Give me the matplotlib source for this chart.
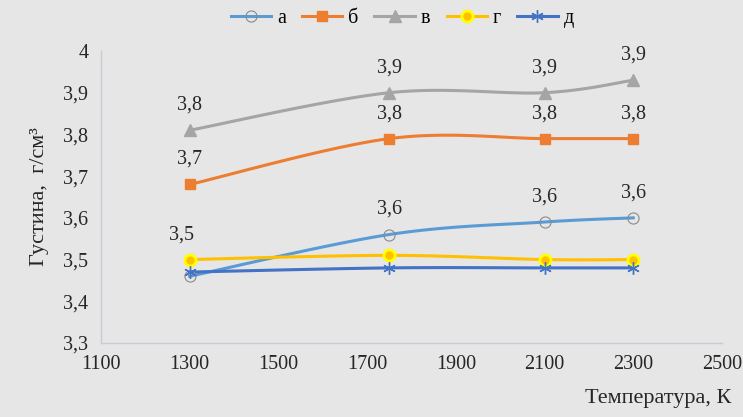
import numpy as np
import matplotlib.pyplot as plt

plt.rcParams['font.family'] = ['Liberation Serif', 'DejaVu Serif']

temps = [1300, 1750, 2100, 2300]
dens_a = [3.46, 3.56, 3.59, 3.60]
dens_b = [3.68, 3.79, 3.79, 3.79]
dens_v = [3.81, 3.90, 3.90, 3.93]
dens_g = [3.50, 3.51, 3.50, 3.50]
dens_d = [3.47, 3.48, 3.48, 3.48]

# which points get a value label
labels_a = [False, True, True, True]
labels_b = [True, True, True, True]
labels_v = [True, True, True, True]
labels_g = [True, False, False, False]
labels_d = [False, False, False, False]

xlim = (1100, 2500)
ylim = (3.3, 4.0)
bg = '#e6e6e6'


def smooth(x, y, n=40):
    # Catmull-Rom style bezier through the points, done in scaled coords
    sx = (np.asarray(x, float) - xlim[0]) / (xlim[1] - xlim[0]) * 621
    sy = (np.asarray(y, float) - ylim[0]) / (ylim[1] - ylim[0]) * 292
    p = np.column_stack([sx, sy])
    pts = np.vstack([p[0], p, p[-1]])
    out = []
    t = np.linspace(0, 1, n)[:, None]
    for i in range(1, len(pts) - 2):
        p0, p1, p2, p3 = pts[i - 1], pts[i], pts[i + 1], pts[i + 2]
        c1 = p1 + (p2 - p0) / 6
        c2 = p2 - (p3 - p1) / 6
        seg = ((1 - t) ** 3) * p1 + 3 * ((1 - t) ** 2) * t * c1 + 3 * (1 - t) * t ** 2 * c2 + t ** 3 * p2
        out.append(seg)
    c = np.vstack(out)
    xs = c[:, 0] / 621 * (xlim[1] - xlim[0]) + xlim[0]
    ys = c[:, 1] / 292 * (ylim[1] - ylim[0]) + ylim[0]
    return xs, ys


fig = plt.figure(figsize=(7.43, 4.17), dpi=100, facecolor=bg)
ax = fig.add_axes([0.1359, 0.1775, 0.8358, 0.7002], facecolor=bg)

series = [
    ('а', dens_a, labels_a, '#5b9bd5', dict(marker='o', markersize=8, markerfacecolor='none',
                                              markeredgecolor='#8a8a8a', markeredgewidth=0.8)),
    ('б', dens_b, labels_b, '#ed7d31', dict(marker='s', markersize=7, markerfacecolor='#ed7d31',
                                              markeredgecolor='#ed7d31')),
    ('в', dens_v, labels_v, '#a5a5a5', dict(marker='^', markersize=8, markerfacecolor='#a5a5a5',
                                              markeredgecolor='#a5a5a5')),
    ('г', dens_g, labels_g, '#ffc000', dict(marker='o', markersize=8, markerfacecolor='#ffc000',
                                              markeredgecolor='#ffff00', markeredgewidth=2)),
    ('д', dens_d, labels_d, '#4472c4', dict(marker=(6, 2, 0), markersize=9, markerfacecolor='#4472c4',
                                              markeredgecolor='#4472c4', markeredgewidth=1)),
]

for name, vals, lab, color, mk in series:
    xs, ys = smooth(temps, vals)
    ax.plot(xs, ys, color=color, lw=2.2, zorder=2)
    ax.plot(temps, vals, linestyle='none', zorder=3, **mk)
    # proxy for the legend: line with marker
    ax.plot([], [], color=color, lw=2.2, label=name, **mk)
    for t, v, show in zip(temps, vals, lab):
        if show:
            dx = -6 if name == 'г' else 0
            ax.annotate(f'{v:.1f}'.replace('.', ','), (t, v), xytext=(dx, 18),
                        textcoords='offset points', ha='center', va='center',
                        fontsize=14.5, color='#262626')

ax.set_xlim(*xlim)
ax.set_ylim(*ylim)
ax.set_xticks(np.arange(1100, 2501, 200))
ax.set_yticks(np.arange(3.3, 4.01, 0.1))
ax.set_yticklabels([f'{v:.1f}'.replace('.', ',').replace(',0', '') for v in np.arange(3.3, 4.01, 0.1)])
ax.tick_params(length=0, labelsize=14.5, colors='#262626', pad=9)
for s in ['top', 'right']:
    ax.spines[s].set_visible(False)
for s in ['left', 'bottom']:
    ax.spines[s].set_color('#c9ccd4')
    ax.spines[s].set_linewidth(1)

ax.set_ylabel('Густина,  г/см³', fontsize=16, color='#262626', labelpad=10)
fig.text(0.985, 0.045, 'Температура, К', ha='right', va='center', fontsize=16, color='#262626')

ax.legend(loc='center', bbox_to_anchor=(0.485, 1.113), ncol=5, frameon=False, fontsize=14.5,
          handlelength=2.0, columnspacing=0.8, handletextpad=0.3)

fig.savefig('out.png', dpi=100, facecolor=bg)
